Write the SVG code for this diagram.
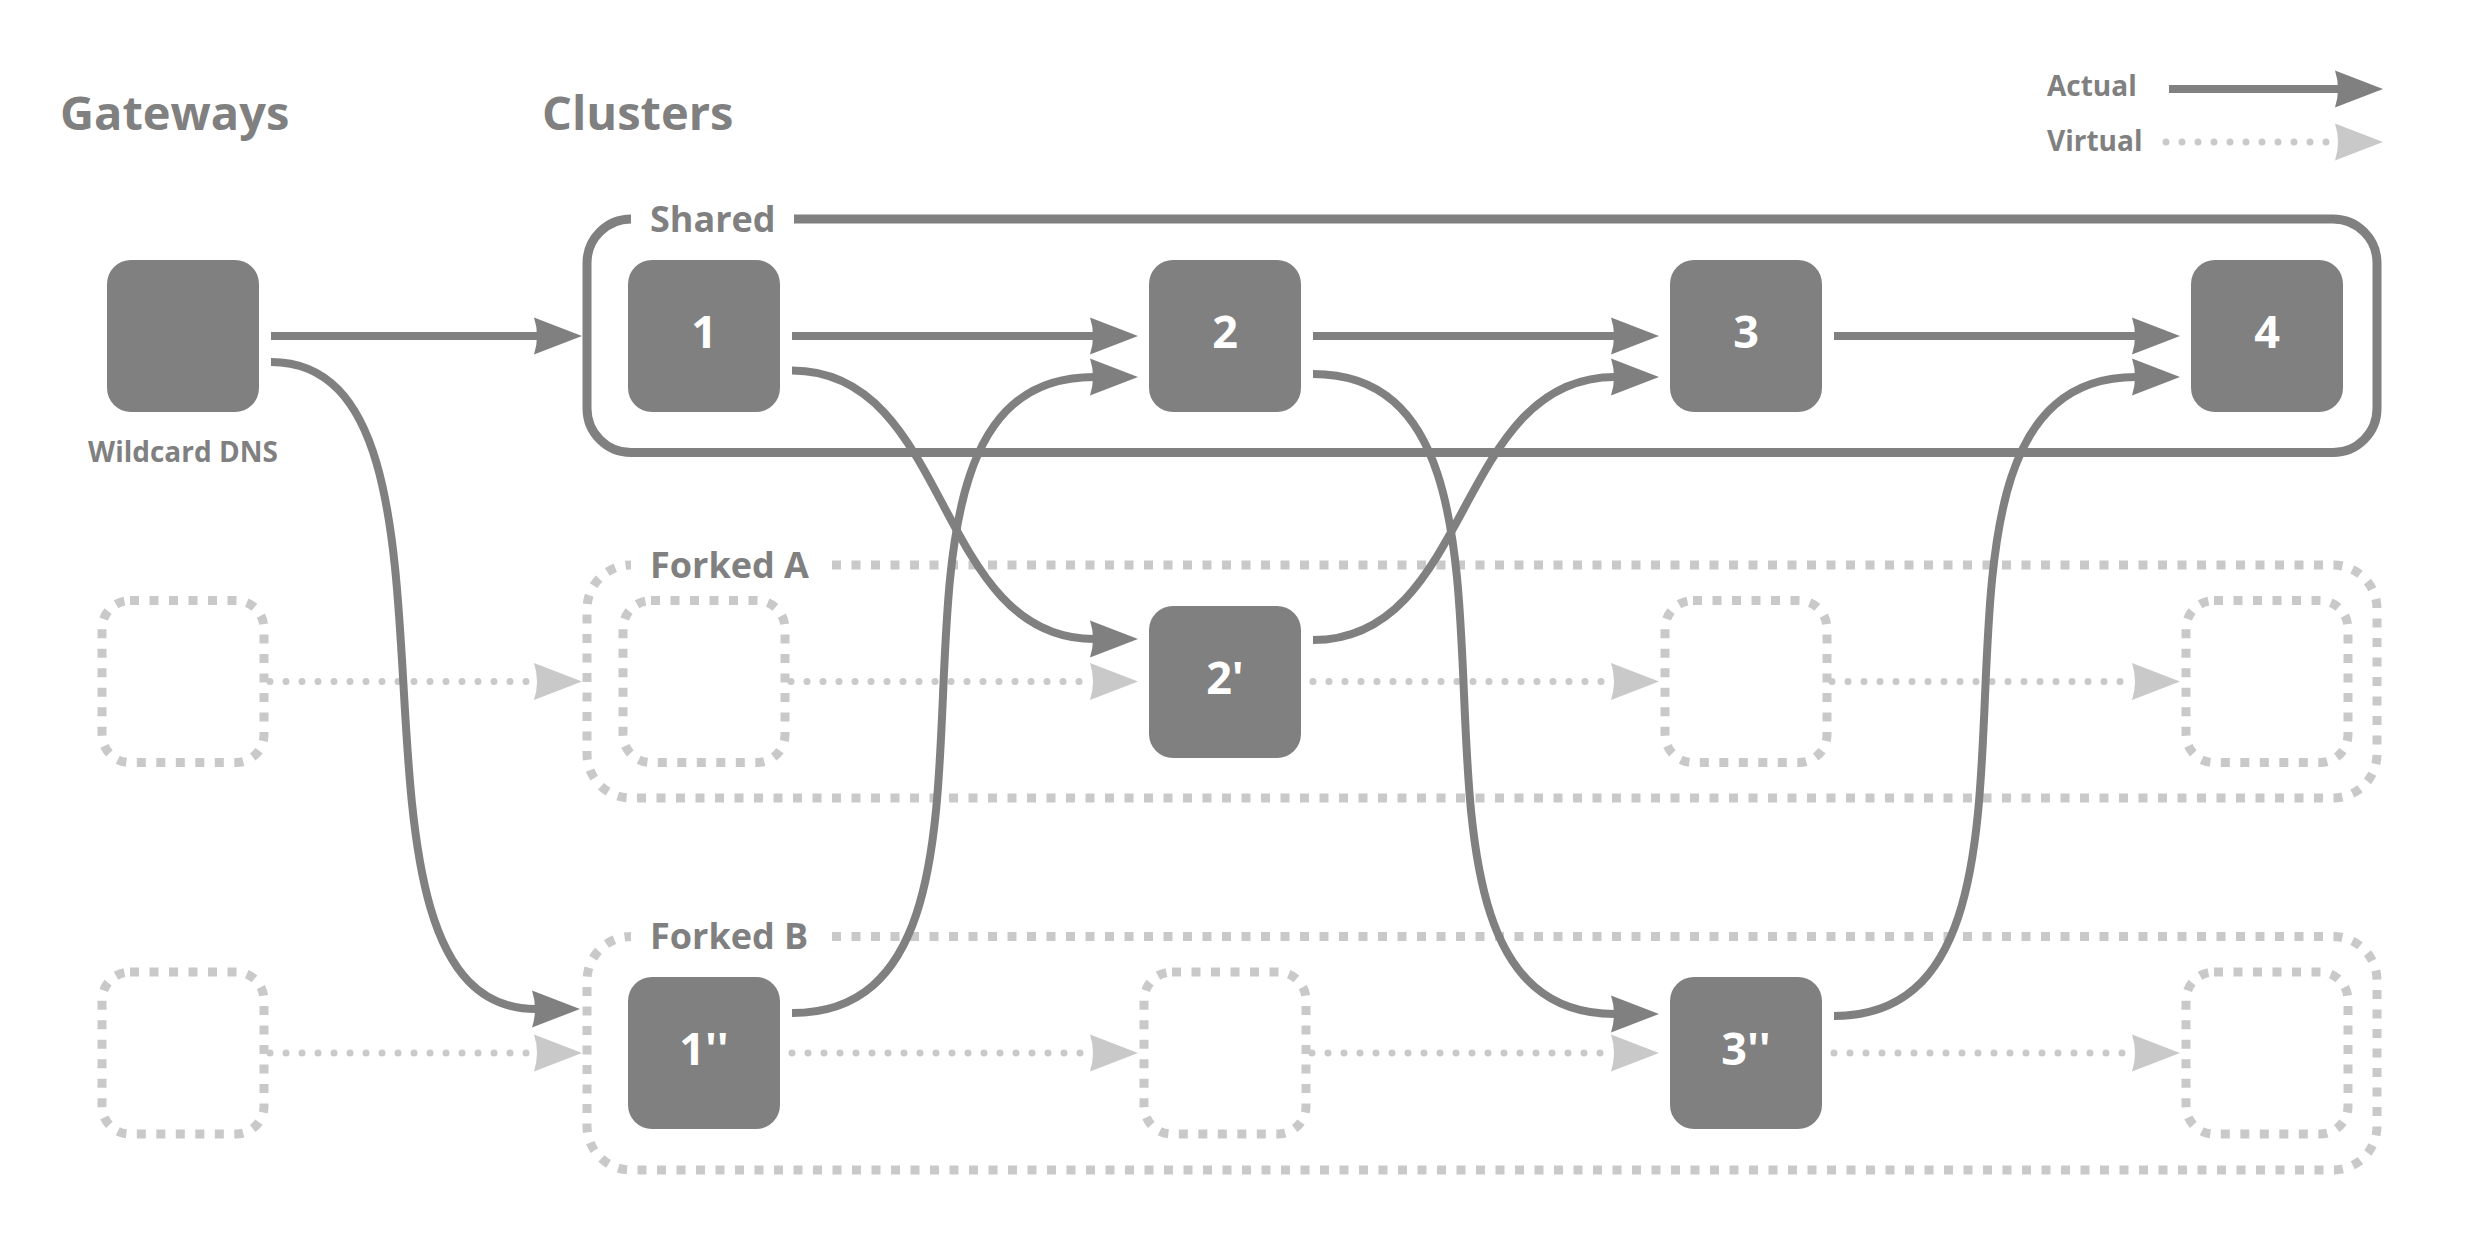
<svg xmlns="http://www.w3.org/2000/svg" width="2484" height="1254" viewBox="0 0 2484 1254">
<style>
.t{font-family:"Open Sans","Liberation Sans",sans-serif;font-weight:700;fill:#808080}
.h{font-size:47px}
.g{font-size:36px}
.s{font-size:28px}
.n{font-family:"Open Sans","Liberation Sans",sans-serif;font-weight:700;font-size:45px;fill:#fff;text-anchor:middle}
.node{fill:#808080}
.vnode{fill:none;stroke:#c9c9c9;stroke-width:9;stroke-dasharray:9 10.5}
.box{fill:none;stroke:#808080;stroke-width:9}
.vbox{fill:none;stroke:#c9c9c9;stroke-width:9;stroke-dasharray:9 10.5}
.act{fill:none;stroke:#808080;stroke-width:8;marker-end:url(#ah)}
.vir{fill:none;stroke:#c9c9c9;stroke-width:7;stroke-linecap:round;stroke-dasharray:0 16;marker-end:url(#av)}
</style>
<defs>
<marker id="ah" markerUnits="userSpaceOnUse" markerWidth="50" markerHeight="40" viewBox="0 -20 50 40" refX="4" refY="0" orient="auto" overflow="visible"><path d="M48,0 L0,-18.5 Q6,0 0,18.5 Z" fill="#808080"/></marker>
<marker id="av" markerUnits="userSpaceOnUse" markerWidth="50" markerHeight="40" viewBox="0 -20 50 40" refX="4" refY="0" orient="auto" overflow="visible"><path d="M48,0 L0,-18.5 Q6,0 0,18.5 Z" fill="#c9c9c9"/></marker>
</defs>
<rect width="2484" height="1254" fill="#fff"/>

<g id="titles">
<text class="t h" x="60" y="130">Gateways</text>
<text class="t h" x="542" y="130">Clusters</text>
</g>

<g id="legend">
<text class="t s" x="2047" y="96">Actual</text>
<text class="t s" x="2047" y="151">Virtual</text>
<path class="act" d="M2169,89 H2339"/>
<path class="vir" d="M2166,142 H2339"/>
</g>

<g id="group-shared">
<path class="box" d="M794,219 H2333 A44,44 0 0 1 2377,263 V408.5 A44,44 0 0 1 2333,452.5 H631 A44,44 0 0 1 587,408.5 V263 A44,44 0 0 1 631,219"/>
<text class="t g" x="650" y="232">Shared</text>
</g>
<g id="group-forked-a">
<path class="vbox" d="M832,565 H2333 A44,44 0 0 1 2377,609 V754 A44,44 0 0 1 2333,798 H631 A44,44 0 0 1 587,754 V609 A44,44 0 0 1 631,565"/>
<text class="t g" x="650" y="578">Forked A</text>
</g>
<g id="group-forked-b">
<path class="vbox" d="M832,936.5 H2333 A44,44 0 0 1 2377,980.5 V1126 A44,44 0 0 1 2333,1170 H631 A44,44 0 0 1 587,1126 V980.5 A44,44 0 0 1 631,936.5"/>
<text class="t g" x="650" y="949">Forked B</text>
</g>

<g id="gateway">
<rect class="node" x="107" y="260" width="152" height="152" rx="24"/>
<text class="t s" x="183" y="462" text-anchor="middle">Wildcard DNS</text>
</g>
<g id="gateway-a"><rect class="vnode" x="102" y="600.5" width="162" height="162" rx="28"/></g>
<g id="gateway-b"><rect class="vnode" x="102" y="972" width="162" height="162" rx="28"/></g>

<g id="cluster-1"><rect class="node" x="628" y="260" width="152" height="152" rx="24"/><text class="n" x="704" y="348">1</text></g>
<g id="cluster-2"><rect class="node" x="1149" y="260" width="152" height="152" rx="24"/><text class="n" x="1225" y="348">2</text></g>
<g id="cluster-3"><rect class="node" x="1670" y="260" width="152" height="152" rx="24"/><text class="n" x="1746" y="348">3</text></g>
<g id="cluster-4"><rect class="node" x="2191" y="260" width="152" height="152" rx="24"/><text class="n" x="2267" y="348">4</text></g>

<g id="cluster-1a"><rect class="vnode" x="623" y="600.5" width="162" height="162" rx="28"/></g>
<g id="cluster-2a"><rect class="node" x="1149" y="606" width="152" height="152" rx="24"/><text class="n" x="1225" y="694">2'</text></g>
<g id="cluster-3a"><rect class="vnode" x="1665" y="600.5" width="162" height="162" rx="28"/></g>
<g id="cluster-4a"><rect class="vnode" x="2186" y="600.5" width="162" height="162" rx="28"/></g>

<g id="cluster-1b"><rect class="node" x="628" y="977" width="152" height="152" rx="24"/><text class="n" x="704" y="1065">1''</text></g>
<g id="cluster-2b"><rect class="vnode" x="1144" y="972" width="162" height="162" rx="28"/></g>
<g id="cluster-3b"><rect class="node" x="1670" y="977" width="152" height="152" rx="24"/><text class="n" x="1746" y="1065">3''</text></g>
<g id="cluster-4b"><rect class="vnode" x="2186" y="972" width="162" height="162" rx="28"/></g>

<g id="connectors">
<path class="vir" d="M270,681.5 H538"/>
<path class="vir" d="M791,681.5 H1094"/>
<path class="vir" d="M1313,681.5 H1615"/>
<path class="vir" d="M1832,681.5 H2136"/>
<path class="vir" d="M270,1053 H538"/>
<path class="vir" d="M792,1053 H1094"/>
<path class="vir" d="M1312,1053 H1615"/>
<path class="vir" d="M1834,1053 H2136"/>
<path class="act" d="M271,336 H538"/>
<path class="act" d="M792,336 H1094"/>
<path class="act" d="M1313,336 H1615"/>
<path class="act" d="M1834,336 H2136"/>
<path class="act" d="M271,362 C499,362 308,1009 536,1009"/>
<path class="act" d="M792,370.5 C952,370.5 934,639 1094,639"/>
<path class="act" d="M792,1013 C1067,1013 819,377 1094,377"/>
<path class="act" d="M1313,374 C1588,374 1340,1014 1615,1014"/>
<path class="act" d="M1313,640 C1473,640 1455,377 1615,377"/>
<path class="act" d="M1834,1016 C2109,1016 1861,377 2136,377"/>
</g>
</svg>
